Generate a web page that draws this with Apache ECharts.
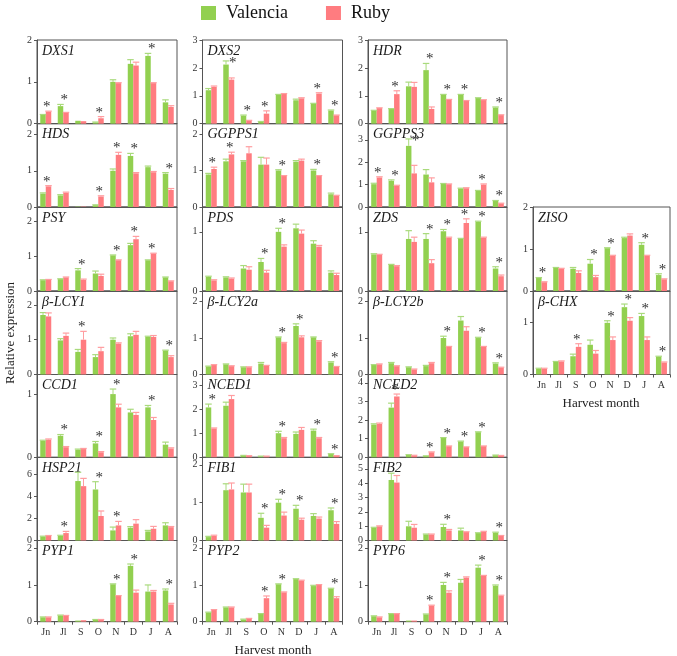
<!DOCTYPE html>
<html><head><meta charset="utf-8">
<script src="https://cdn.jsdelivr.net/npm/echarts@6.0.0/dist/echarts.min.js"></script>
<style>html,body{margin:0;padding:0;background:#fff}#c{width:677px;height:656px}</style>
</head><body><div id="c"></div>
<script>
// ---------- DATA ----------
const months = ['Jn','Jl','S','O','N','D','J','A'];
const seriesNames = ['Valencia','Ruby'];

const DXS1_valencia = [0.21,0.42,0.07,0.03,1.00,1.43,1.62,0.51];
const DXS1_valenciaErr = [0.01,0.04,0.00,0.01,0.05,0.10,0.06,0.06];
const DXS1_ruby = [0.29,0.26,0.06,0.13,0.97,1.39,0.97,0.40];
const DXS1_rubyErr = [0.01,0.01,0.00,0.04,0.01,0.08,0.01,0.03];
const DXS1_sig = ['Jn','Jl','O','J'];
const DXS1_yMax = 2, DXS1_yTicks = [0,1,2];

const DXS2_valencia = [1.20,2.12,0.29,0.07,1.04,0.84,0.72,0.47];
const DXS2_valenciaErr = [0.06,0.13,0.02,0.01,0.01,0.04,0.01,0.02];
const DXS2_ruby = [1.32,1.58,0.11,0.36,1.07,0.91,1.08,0.30];
const DXS2_rubyErr = [0.03,0.06,0.01,0.10,0.01,0.02,0.03,0.01];
const DXS2_sig = ['Jl','S','O','J','A'];
const DXS2_yMax = 3, DXS2_yTicks = [0,1,2,3];

const HDR_valencia = [0.47,0.53,1.34,1.92,1.04,1.04,0.92,0.58];
const HDR_valenciaErr = [0.01,0.01,0.15,0.24,0.01,0.01,0.01,0.02];
const HDR_ruby = [0.56,1.06,1.32,0.53,0.85,0.82,0.85,0.31];
const HDR_rubyErr = [0.01,0.12,0.16,0.07,0.02,0.01,0.01,0.01];
const HDR_sig = ['Jl','O','N','D','A'];
const HDR_yMax = 3, HDR_yTicks = [0,1,2,3];

const HDS_valencia = [0.37,0.32,0.01,0.05,1.00,1.41,1.10,0.92];
const HDS_valenciaErr = [0.02,0.02,0,0.01,0.05,0.07,0.03,0.03];
const HDS_ruby = [0.57,0.39,0.01,0.29,1.44,0.93,0.96,0.47];
const HDS_rubyErr = [0.02,0.02,0,0.02,0.07,0.02,0.02,0.04];
const HDS_sig = ['Jn','O','N','D','A'];
const HDS_yMax = 2.3, HDS_yTicks = [0,1,2];

const GGPPS1_valencia = [0.89,1.25,1.25,1.16,1.00,1.24,1.00,0.35];
const GGPPS1_valenciaErr = [0.03,0.06,0.02,0.20,0.02,0.03,0.03,0.03];
const GGPPS1_ruby = [1.04,1.44,1.47,1.16,0.85,1.27,0.85,0.31];
const GGPPS1_rubyErr = [0.05,0.06,0.18,0.18,0.01,0.04,0.01,0.01];
const GGPPS1_sig = ['Jn','Jl','N','J'];
const GGPPS1_yMax = 2.28, GGPPS1_yTicks = [0,1,2];

const GGPPS3_valencia = [1.02,1.17,2.73,1.45,1.03,0.82,0.72,0.27];
const GGPPS3_valenciaErr = [0.04,0.04,0.31,0.22,0.02,0.02,0.02,0.02];
const GGPPS3_ruby = [1.32,0.94,1.50,1.10,1.02,0.84,1.00,0.16];
const GGPPS3_rubyErr = [0.03,0.03,0.36,0.20,0.01,0.02,0.03,0.01];
const GGPPS3_sig = ['Jn','Jl','S','J','A'];
const GGPPS3_yMax = 3.72, GGPPS3_yTicks = [0,1,2,3];

const PSY_valencia = [0.31,0.34,0.59,0.50,1.02,1.31,0.88,0.39];
const PSY_valenciaErr = [0.01,0.01,0.05,0.07,0.01,0.05,0.01,0.01];
const PSY_ruby = [0.32,0.39,0.32,0.43,0.88,1.48,1.07,0.28];
const PSY_rubyErr = [0.01,0.01,0.02,0.05,0.01,0.08,0.01,0.01];
const PSY_sig = ['S','N','D','J'];
const PSY_yMax = 2.4, PSY_yTicks = [0,1,2];

const PDS_valencia = [0.24,0.23,0.38,0.49,1.00,1.06,0.80,0.31];
const PDS_valenciaErr = [0.01,0.01,0.05,0.06,0.06,0.07,0.05,0.03];
const PDS_ruby = [0.18,0.21,0.36,0.31,0.75,0.97,0.75,0.27];
const PDS_rubyErr = [0.01,0.01,0.05,0.04,0.03,0.06,0.02,0.03];
const PDS_sig = ['O','N'];
const PDS_yMax = 1.42, PDS_yTicks = [0,1];

const ZDS_valencia = [0.62,0.44,0.88,0.88,1.01,0.88,1.17,0.38];
const ZDS_valenciaErr = [0.01,0.01,0.14,0.09,0.03,0.01,0.01,0.03];
const ZDS_ruby = [0.61,0.42,0.83,0.47,0.90,1.15,0.90,0.25];
const ZDS_rubyErr = [0.01,0.01,0.08,0.06,0.01,0.07,0.01,0.02];
const ZDS_sig = ['O','N','D','J','A'];
const ZDS_yMax = 1.42, ZDS_yTicks = [0,1];

const ZISO_valencia = [0.31,0.55,0.53,0.65,1.02,1.26,1.10,0.38];
const ZISO_valenciaErr = [0.01,0.01,0.03,0.10,0.01,0.02,0.05,0.03];
const ZISO_ruby = [0.21,0.53,0.43,0.33,0.84,1.32,0.84,0.28];
const ZISO_rubyErr = [0.01,0.01,0.05,0.04,0.01,0.04,0.01,0.01];
const ZISO_sig = ['Jn','O','N','J','A'];
const ZISO_yMax = 2, ZISO_yTicks = [0,1,2];

const bLCY1_valencia = [1.71,0.98,0.65,0.50,1.00,1.10,1.08,0.69];
const bLCY1_valenciaErr = [0.07,0.05,0.07,0.07,0.05,0.07,0.02,0.01];
const bLCY1_ruby = [1.67,1.11,1.00,0.67,0.89,1.14,1.08,0.50];
const bLCY1_rubyErr = [0.10,0.08,0.24,0.11,0.02,0.10,0.04,0.04];
const bLCY1_sig = ['S','A'];
const bLCY1_yMax = 2.4, bLCY1_yTicks = [0,1,2];

const bLCY2a_valencia = [0.22,0.28,0.20,0.30,1.02,1.33,1.02,0.33];
const bLCY2a_valenciaErr = [0.01,0.01,0.01,0.03,0.01,0.06,0.01,0.02];
const bLCY2a_ruby = [0.26,0.23,0.20,0.24,0.86,1.02,0.91,0.21];
const bLCY2a_rubyErr = [0.01,0.01,0.01,0.01,0.02,0.04,0.02,0.01];
const bLCY2a_sig = ['N','D','A'];
const bLCY2a_yMax = 2.29, bLCY2a_yTicks = [0,1,2];

const bLCY2b_valencia = [0.26,0.31,0.20,0.23,1.00,1.48,1.00,0.30];
const bLCY2b_valenciaErr = [0.01,0.02,0.01,0.02,0.05,0.11,0.02,0.02];
const bLCY2b_ruby = [0.28,0.23,0.14,0.31,0.76,1.20,0.76,0.19];
const bLCY2b_rubyErr = [0.01,0.01,0.01,0.02,0.01,0.11,0.01,0.01];
const bLCY2b_sig = ['N','J','A'];
const bLCY2b_yMax = 2.29, bLCY2b_yTicks = [0,1,2];

const bCHX_valencia = [0.11,0.24,0.35,0.57,0.99,1.29,1.12,0.34];
const bCHX_valenciaErr = [0.01,0.01,0.04,0.09,0.04,0.06,0.05,0.01];
const bCHX_ruby = [0.11,0.25,0.53,0.40,0.66,1.03,0.66,0.23];
const bCHX_rubyErr = [0.01,0.01,0.06,0.06,0.06,0.06,0.06,0.01];
const bCHX_sig = ['S','N','D','J','A'];
const bCHX_yMax = 1.6, bCHX_yTicks = [0,1];

const CCD1_valencia = [0.26,0.34,0.12,0.22,1.00,0.71,0.79,0.20];
const CCD1_valenciaErr = [0.01,0.02,0.01,0.03,0.08,0.05,0.03,0.04];
const CCD1_ruby = [0.28,0.16,0.13,0.08,0.79,0.67,0.59,0.14];
const CCD1_rubyErr = [0.01,0.01,0.01,0.01,0.05,0.04,0.04,0.01];
const CCD1_sig = ['Jl','O','N','J'];
const CCD1_yMax = 1.31, CCD1_yTicks = [0,1];

const NCED1_valencia = [2.09,2.16,0.07,0.04,1.01,0.98,1.12,0.14];
const NCED1_valenciaErr = [0.14,0.15,0.01,0.01,0.08,0.08,0.06,0.01];
const NCED1_ruby = [1.21,2.44,0.06,0.04,0.80,1.15,0.80,0.06];
const NCED1_rubyErr = [0.02,0.15,0.01,0.01,0.03,0.10,0.03,0.01];
const NCED1_sig = ['Jn','N','J','A'];
const NCED1_yMax = 3.47, NCED1_yTicks = [0,1,2,3];

const NCED2_valencia = [1.76,2.67,0.13,0.07,1.04,0.85,1.35,0.11];
const NCED2_valenciaErr = [0.04,0.24,0.01,0.01,0.02,0.02,0.02,0.01];
const NCED2_ruby = [1.80,3.27,0.10,0.27,0.60,0.55,0.60,0.09];
const NCED2_rubyErr = [0.04,0.13,0.01,0.02,0.01,0.01,0.01,0.01];
const NCED2_sig = ['Jl','O','N','D','J'];
const NCED2_yMax = 4.45, NCED2_yTicks = [0,1,2,3,4];

const HSP21_valencia = [0.36,0.42,5.36,4.60,0.91,1.15,0.82,1.36];
const HSP21_valenciaErr = [0.03,0.05,0.79,0.70,0.30,0.10,0.09,0.24];
const HSP21_ruby = [0.42,0.67,4.90,2.21,1.36,1.52,1.06,1.20];
const HSP21_rubyErr = [0.03,0.15,0.70,0.45,0.36,0.36,0.21,0.06];
const HSP21_sig = ['Jl','O','N'];
const HSP21_yMax = 7.5, HSP21_yTicks = [0,2,4,6];

const FIB1_valencia = [0.09,1.33,1.27,0.60,1.00,0.84,0.65,0.80];
const FIB1_valenciaErr = [0.02,0.17,0.22,0.12,0.09,0.09,0.06,0.06];
const FIB1_ruby = [0.12,1.35,1.27,0.34,0.66,0.55,0.58,0.44];
const FIB1_rubyErr = [0.02,0.17,0.22,0.06,0.09,0.04,0.04,0.06];
const FIB1_sig = ['O','N','D','A'];
const FIB1_yMax = 2.2, FIB1_yTicks = [0,1,2];

const FIB2_valencia = [0.89,4.22,0.99,0.42,0.94,0.70,0.52,0.54];
const FIB2_valenciaErr = [0.03,0.47,0.35,0.03,0.19,0.16,0.02,0.04];
const FIB2_ruby = [0.99,4.04,0.89,0.42,0.70,0.59,0.61,0.33];
const FIB2_rubyErr = [0.03,0.49,0.23,0.03,0.07,0.02,0.03,0.02];
const FIB2_sig = ['N','A'];
const FIB2_yMax = 5.8, FIB2_yTicks = [0,1,2,3,4,5];

const PYP1_valencia = [0.12,0.17,0.03,0.05,1.02,1.52,0.82,0.85];
const PYP1_valenciaErr = [0.01,0.01,0,0.01,0.01,0.05,0.18,0.04];
const PYP1_ruby = [0.12,0.16,0.04,0.05,0.70,0.79,0.82,0.47];
const PYP1_rubyErr = [0.01,0.01,0,0.01,0.01,0.07,0.03,0.03];
const PYP1_sig = ['N','D','A'];
const PYP1_yMax = 2.21, PYP1_yTicks = [0,1,2];

const PYP2_valencia = [0.25,0.39,0.06,0.21,1.02,1.16,0.97,0.89];
const PYP2_valenciaErr = [0.01,0.01,0.01,0.01,0.01,0.01,0.02,0.02];
const PYP2_ruby = [0.32,0.39,0.08,0.64,0.80,1.12,1.00,0.64];
const PYP2_rubyErr = [0.01,0.01,0.01,0.06,0.01,0.01,0.01,0.04];
const PYP2_sig = ['O','N','A'];
const PYP2_yMax = 2.21, PYP2_yTicks = [0,1,2];

const PYP6_valencia = [0.15,0.21,0.03,0.20,1.00,1.06,1.47,0.98];
const PYP6_valenciaErr = [0.01,0.01,0,0.01,0.07,0.09,0.07,0.02];
const PYP6_ruby = [0.12,0.21,0.03,0.44,0.79,1.20,1.25,0.70];
const PYP6_rubyErr = [0.01,0.01,0,0.01,0.05,0.02,0.01,0.02];
const PYP6_sig = ['O','N','J','A'];
const PYP6_yMax = 2.21, PYP6_yTicks = [0,1,2];

// table built from the arrays above
const DATA = {
  'DXS1':[DXS1_valencia,DXS1_valenciaErr,DXS1_ruby,DXS1_rubyErr,DXS1_sig,DXS1_yMax,DXS1_yTicks],
  'DXS2':[DXS2_valencia,DXS2_valenciaErr,DXS2_ruby,DXS2_rubyErr,DXS2_sig,DXS2_yMax,DXS2_yTicks],
  'HDR':[HDR_valencia,HDR_valenciaErr,HDR_ruby,HDR_rubyErr,HDR_sig,HDR_yMax,HDR_yTicks],
  'HDS':[HDS_valencia,HDS_valenciaErr,HDS_ruby,HDS_rubyErr,HDS_sig,HDS_yMax,HDS_yTicks],
  'GGPPS1':[GGPPS1_valencia,GGPPS1_valenciaErr,GGPPS1_ruby,GGPPS1_rubyErr,GGPPS1_sig,GGPPS1_yMax,GGPPS1_yTicks],
  'GGPPS3':[GGPPS3_valencia,GGPPS3_valenciaErr,GGPPS3_ruby,GGPPS3_rubyErr,GGPPS3_sig,GGPPS3_yMax,GGPPS3_yTicks],
  'PSY':[PSY_valencia,PSY_valenciaErr,PSY_ruby,PSY_rubyErr,PSY_sig,PSY_yMax,PSY_yTicks],
  'PDS':[PDS_valencia,PDS_valenciaErr,PDS_ruby,PDS_rubyErr,PDS_sig,PDS_yMax,PDS_yTicks],
  'ZDS':[ZDS_valencia,ZDS_valenciaErr,ZDS_ruby,ZDS_rubyErr,ZDS_sig,ZDS_yMax,ZDS_yTicks],
  'ZISO':[ZISO_valencia,ZISO_valenciaErr,ZISO_ruby,ZISO_rubyErr,ZISO_sig,ZISO_yMax,ZISO_yTicks],
  'β-LCY1':[bLCY1_valencia,bLCY1_valenciaErr,bLCY1_ruby,bLCY1_rubyErr,bLCY1_sig,bLCY1_yMax,bLCY1_yTicks],
  'β-LCY2a':[bLCY2a_valencia,bLCY2a_valenciaErr,bLCY2a_ruby,bLCY2a_rubyErr,bLCY2a_sig,bLCY2a_yMax,bLCY2a_yTicks],
  'β-LCY2b':[bLCY2b_valencia,bLCY2b_valenciaErr,bLCY2b_ruby,bLCY2b_rubyErr,bLCY2b_sig,bLCY2b_yMax,bLCY2b_yTicks],
  'β-CHX':[bCHX_valencia,bCHX_valenciaErr,bCHX_ruby,bCHX_rubyErr,bCHX_sig,bCHX_yMax,bCHX_yTicks],
  'CCD1':[CCD1_valencia,CCD1_valenciaErr,CCD1_ruby,CCD1_rubyErr,CCD1_sig,CCD1_yMax,CCD1_yTicks],
  'NCED1':[NCED1_valencia,NCED1_valenciaErr,NCED1_ruby,NCED1_rubyErr,NCED1_sig,NCED1_yMax,NCED1_yTicks],
  'NCED2':[NCED2_valencia,NCED2_valenciaErr,NCED2_ruby,NCED2_rubyErr,NCED2_sig,NCED2_yMax,NCED2_yTicks],
  'HSP21':[HSP21_valencia,HSP21_valenciaErr,HSP21_ruby,HSP21_rubyErr,HSP21_sig,HSP21_yMax,HSP21_yTicks],
  'FIB1':[FIB1_valencia,FIB1_valenciaErr,FIB1_ruby,FIB1_rubyErr,FIB1_sig,FIB1_yMax,FIB1_yTicks],
  'FIB2':[FIB2_valencia,FIB2_valenciaErr,FIB2_ruby,FIB2_rubyErr,FIB2_sig,FIB2_yMax,FIB2_yTicks],
  'PYP1':[PYP1_valencia,PYP1_valenciaErr,PYP1_ruby,PYP1_rubyErr,PYP1_sig,PYP1_yMax,PYP1_yTicks],
  'PYP2':[PYP2_valencia,PYP2_valenciaErr,PYP2_ruby,PYP2_rubyErr,PYP2_sig,PYP2_yMax,PYP2_yTicks],
  'PYP6':[PYP6_valencia,PYP6_valenciaErr,PYP6_ruby,PYP6_rubyErr,PYP6_sig,PYP6_yMax,PYP6_yTicks]
};

// ---------- LAYOUT ----------
const panelColumns = [
  ['DXS1','HDS','PSY','β-LCY1','CCD1','HSP21','PYP1'],
  ['DXS2','GGPPS1','PDS','β-LCY2a','NCED1','FIB1','PYP2'],
  ['HDR','GGPPS3','ZDS','β-LCY2b','NCED2','FIB2','PYP6'],
  [null,null,'ZISO','β-CHX']
];
const colLeft = [37, 202.5, 368, 533];
const colWidth = [140, 140, 139, 137];
const rowEdge = [40, 123.7, 207, 291, 374.5, 457.3, 540.5, 621.7];

const GREEN = '#92D050', PINK = '#FF7C80';
const FONT = '"Liberation Serif","Times New Roman",serif';
const AXIS_C = '#555';
const BAR_W = 5.5;

const grids = [], xAxes = [], yAxes = [], series = [], graphics = [];

panelColumns.forEach((col, ci) => {
  let lastRow = -1;
  col.forEach((g, ri) => { if (g) lastRow = ri; });
  col.forEach((gene, ri) => {
    if (!gene) return;
    const [v, ve, r, re, sig, yMax, yTicks] = DATA[gene];
    const gi = grids.length;
    const top = rowEdge[ri], bottom = rowEdge[ri + 1];
    const isBottom = ri === lastRow;
    const labelLeft = colLeft[ci] + 5;
    const labelRight = labelLeft + gene.length * 8.5;
    grids.push({left: colLeft[ci], top: top, width: colWidth[ci], height: bottom - top,
      show: true, borderColor: AXIS_C, borderWidth: 1, backgroundColor: 'transparent',
      containLabel: false, outerBoundsMode: 'none'});
    xAxes.push({type: 'category', gridIndex: gi, data: months, boundaryGap: true,
      axisLine: {show: true, lineStyle: {color: AXIS_C, width: 1}},
      axisTick: {show: isBottom, length: 3, lineStyle: {color: AXIS_C}},
      axisLabel: {show: isBottom, fontFamily: FONT, fontSize: 10, color: '#333', margin: 6}});
    yAxes.push({type: 'value', gridIndex: gi, min: 0, max: yMax,
      splitLine: {show: false},
      axisLine: {show: true, lineStyle: {color: AXIS_C, width: 1}},
      axisTick: {show: true, length: 3, customValues: yTicks, lineStyle: {color: AXIS_C}},
      axisLabel: {customValues: yTicks, fontFamily: FONT, fontSize: 10, color: '#333', margin: 5}});
    series.push({type: 'bar', name: seriesNames[0], xAxisIndex: gi, yAxisIndex: gi,
      data: v, barWidth: BAR_W, barGap: '0%', itemStyle: {color: GREEN}, silent: true});
    series.push({type: 'bar', name: seriesNames[1], xAxisIndex: gi, yAxisIndex: gi,
      data: r, barWidth: BAR_W, barGap: '0%', itemStyle: {color: PINK}, silent: true});
    const errData = [];
    months.forEach((m, i) => {
      errData.push([i, v[i], ve[i], 0]);
      errData.push([i, r[i], re[i], 1]);
    });
    series.push({type: 'custom', xAxisIndex: gi, yAxisIndex: gi, data: errData, z: 3, silent: true,
      encode: {x: 0, y: 1},
      renderItem: (params, api) => {
        const i = api.value(0), val = api.value(1), err = api.value(2), s = api.value(3);
        if (!(err > 0)) return null;
        const p0 = api.coord([i, val]);
        const p1 = api.coord([i, val + err]);
        const x = p0[0] + (s === 0 ? -1 : 1) * BAR_W / 2;
        const c = s === 0 ? '#a9da7c' : '#ff9da0';
        return {type: 'group', children: [
          {type: 'line', shape: {x1: x, y1: p0[1], x2: x, y2: p1[1]}, style: {stroke: c, lineWidth: 1}},
          {type: 'line', shape: {x1: x - BAR_W / 2 - 0.5, y1: p1[1], x2: x + BAR_W / 2 + 0.5, y2: p1[1]}, style: {stroke: c, lineWidth: 1.2}}
        ]};
      }});
    const starData = sig.map(m => {
      const i = months.indexOf(m);
      const g = v[i] + ve[i], rr = r[i] + re[i];
      return [i, Math.max(g, rr), g > rr ? 1 : 0];
    });
    series.push({type: 'custom', xAxisIndex: gi, yAxisIndex: gi, data: starData, z: 4, silent: true,
      encode: {x: 0, y: 1},
      renderItem: (params, api) => {
        const p = api.coord([api.value(0), api.value(1)]);
        let x = p[0] + 1, y = p[1] - 4;
        // when the star would collide with the gene label, it sits beside the taller (green) bar
        if (api.value(2) === 1 && y < top + 22 && x > labelLeft && x < labelRight) {
          x = p[0] + 4; y = p[1] + 2;
        }
        return {type: 'text', x: x, y: y,
          style: {text: '*', font: '15px ' + FONT, fill: '#333', textAlign: 'center', textVerticalAlign: 'middle'}};
      }});
    graphics.push({type: 'text', left: labelLeft, top: top + 4, silent: true,
      style: {text: gene, font: 'italic 14px ' + FONT, fill: '#1a1a1a'}});
  });
});

graphics.push({type: 'text', x: 11, y: 333, rotation: Math.PI / 2, silent: true,
  style: {text: 'Relative expression', font: '13px ' + FONT, fill: '#222', textAlign: 'center', textVerticalAlign: 'middle'}});
graphics.push({type: 'text', x: 273, y: 651, silent: true,
  style: {text: 'Harvest month', font: '13px ' + FONT, fill: '#222', textAlign: 'center', textVerticalAlign: 'middle'}});
graphics.push({type: 'text', x: 601, y: 404, silent: true,
  style: {text: 'Harvest month', font: '13px ' + FONT, fill: '#222', textAlign: 'center', textVerticalAlign: 'middle'}});

const chart = echarts.init(document.getElementById('c'), null, {renderer: 'canvas'});
chart.setOption({
  animation: false,
  backgroundColor: '#fff',
  legend: {data: seriesNames, left: 201, top: 4, itemWidth: 15, itemHeight: 14, itemGap: 38, padding: 0,
    icon: 'rect', selectedMode: false,
    textStyle: {fontFamily: FONT, fontSize: 18, color: '#111', padding: [0, 0, 0, 5]}},
  grid: grids, xAxis: xAxes, yAxis: yAxes, series: series, graphic: graphics
});
</script></body></html>
